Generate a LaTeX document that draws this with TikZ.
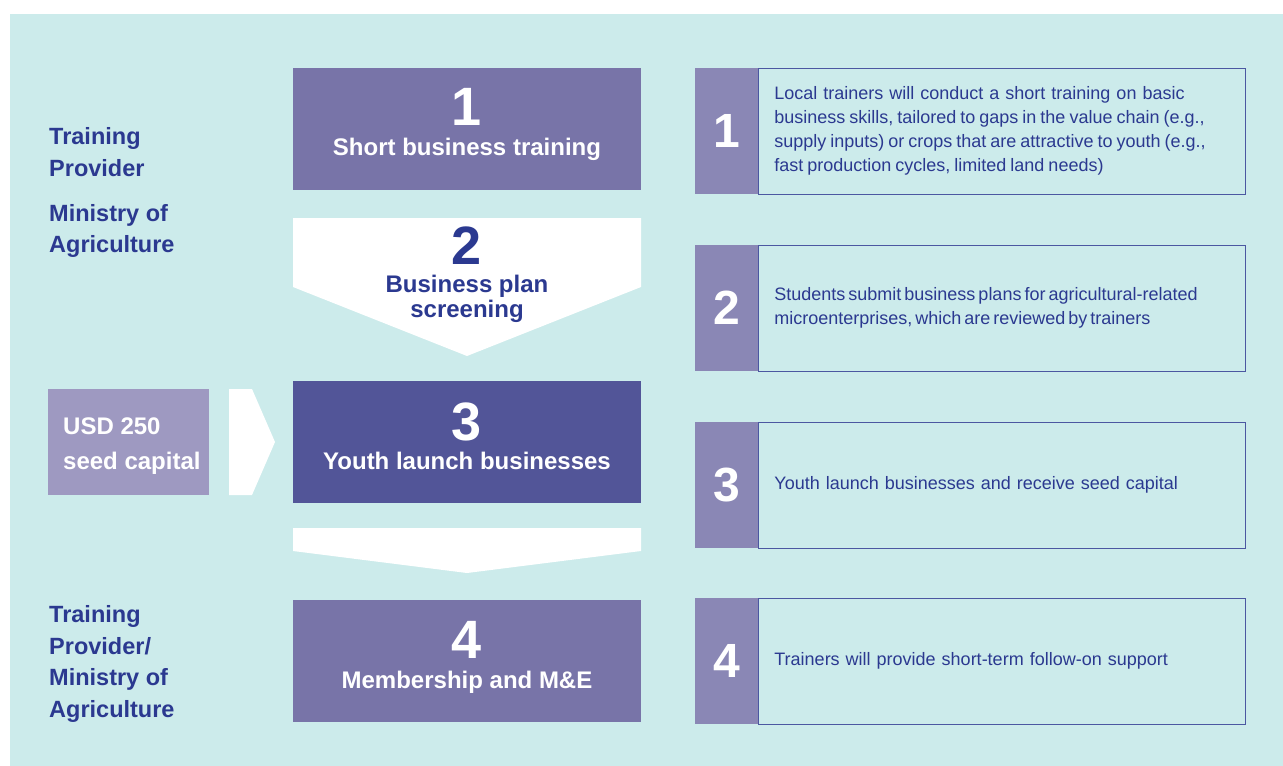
\documentclass[tikz,border=0pt]{standalone}
\usepackage{fontspec}
\setmainfont{Liberation Sans}
\definecolor{bgteal}{RGB}{204,235,235}
\definecolor{stepmid}{RGB}{120,116,168}
\definecolor{stepdark}{RGB}{82,85,152}
\definecolor{seedlilac}{RGB}{158,153,193}
\definecolor{striplilac}{RGB}{138,135,181}
\definecolor{navy}{RGB}{43,57,144}

\begin{document}
\begin{tikzpicture}[x=1pt,y=-1pt,
    stepbox/.style={fill=#1,minimum width=348pt,minimum height=122pt,inner sep=0pt},
    bignum/.style={text=#1,font=\fontsize{54}{54}\selectfont\bfseries,inner sep=0pt},
    steptitle/.style={text=#1,font=\fontsize{24}{25}\selectfont\bfseries,align=center,inner sep=0pt,anchor=base},
    actor/.style={text=navy,font=\fontsize{23.5}{31.5}\selectfont\bfseries,align=left,inner sep=0pt,anchor=west},
    numstrip/.style={fill=striplilac,text=white,font=\fontsize{48}{48}\selectfont\bfseries,
        minimum width=63pt,minimum height=126pt,inner sep=0pt,anchor=west},
    descbox/.style={draw=navy!85,line width=0.8pt,text=navy,font=\fontsize{18}{24}\selectfont,
        text width=455pt,inner xsep=16pt,inner ysep=0pt,minimum height=126pt,align=left,anchor=west}]
    \useasboundingbox (0,0) rectangle (1283,766);
    \fill[bgteal] (10,14) rectangle (1283,766);

    \node[actor] (who1) at (49,152) {Training\\Provider};
    \node[actor] (who2) at (49,231) {Ministry of\\Agriculture};
    \node[actor] (who4) at (49,664) {Training\\Provider/\\Ministry of\\Agriculture};

    \node[stepbox=stepmid] (s1) at (467,129) {};
    \node[bignum=white] (s1num) at (467,107) {1};
    \node[steptitle=white] (s1txt) at (467,155) {Short business training};

    \coordinate (a1) at (293,218); \coordinate (a2) at (641,218);
    \coordinate (a3) at (641,287); \coordinate (a4) at (467,356);
    \coordinate (a5) at (293,287);
    \fill[white] (a1) -- (a2) -- (a3) -- (a4) -- (a5) -- cycle;
    \node[bignum=navy] (s2num) at (467,246) {2};
    \node[steptitle=navy] (s2txt) at (467,317) {Business plan\\screening};

    \node[stepbox=stepdark] (s3) at (467,442) {};
    \node[bignum=white] (s3num) at (467,422) {3};
    \node[steptitle=white] (s3txt) at (467,469) {Youth launch businesses};

    \node[fill=seedlilac,minimum width=161pt,minimum height=106pt,inner sep=0pt] (seed) at (128.5,442) {};
    \node[text=white,font=\fontsize{24}{35}\selectfont\bfseries,align=left,inner sep=0pt,anchor=west]
        (seedtxt) at (63,446) {USD 250\\seed capital};
    \coordinate (c1) at (229,389); \coordinate (c2) at (252,389);
    \coordinate (c3) at (275,442); \coordinate (c4) at (252,495);
    \coordinate (c5) at (229,495);
    \fill[white] (c1) -- (c2) -- (c3) -- (c4) -- (c5) -- cycle;

    \coordinate (b1) at (293,528); \coordinate (b2) at (641,528);
    \coordinate (b3) at (641,551); \coordinate (b4) at (467,573);
    \coordinate (b5) at (293,551);
    \fill[white] (b1) -- (b2) -- (b3) -- (b4) -- (b5) -- cycle;

    \node[stepbox=stepmid] (s4) at (467,661) {};
    \node[bignum=white] (s4num) at (467,640) {4};
    \node[steptitle=white] (s4txt) at (467,688) {Membership and M\&E};

    \node[numstrip] (r1num) at (695,131) {1};
    \node[descbox] (r1) at (758,131) {Local trainers will conduct a short training on basic\\
        {\spaceskip=4pt business skills, tailored to gaps in the value chain (e.g.,}\\
        {\spaceskip=4pt supply inputs) or crops that are attractive to youth (e.g.,}\\
        {\spaceskip=4pt fast production cycles, limited land needs)}};
    \node[numstrip] (r2num) at (695,308) {2};
    \node[descbox] (r2) at (758,308) {{\spaceskip=3pt Students submit business plans for agricultural-related}\\
        {\spaceskip=3pt microenterprises, which are reviewed by trainers}};
    \node[numstrip] (r3num) at (695,485) {3};
    \node[descbox] (r3) at (758,485) {Youth launch businesses and receive seed capital};
    \node[numstrip] (r4num) at (695,661) {4};
    \node[descbox] (r4) at (758,661) {Trainers will provide short-term follow-on support};
\end{tikzpicture}
\end{document}
